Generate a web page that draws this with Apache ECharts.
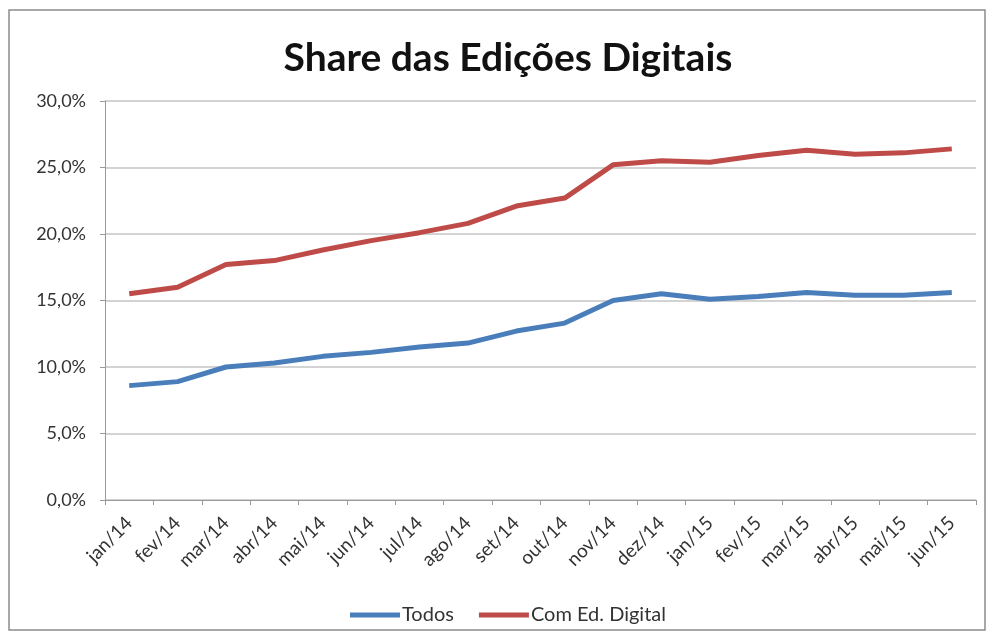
<!DOCTYPE html>
<html>
<head>
<meta charset="utf-8">
<script src="https://cdn.jsdelivr.net/npm/echarts@6/dist/echarts.min.js"></script>
<style>
html,body{margin:0;padding:0;background:#fff;}
#c{width:992px;height:638px;}
</style>
</head>
<body>
<div id="c"></div>
<script>
const categories = ['jan/14','fev/14','mar/14','abr/14','mai/14','jun/14','jul/14','ago/14','set/14','out/14','nov/14','dez/14','jan/15','fev/15','mar/15','abr/15','mai/15','jun/15'];
const todos = [8.6, 8.9, 10.0, 10.3, 10.8, 11.1, 11.5, 11.8, 12.7, 13.3, 15.0, 15.5, 15.1, 15.3, 15.6, 15.4, 15.4, 15.6];
const comEdDigital = [15.5, 16.0, 17.7, 18.0, 18.8, 19.5, 20.1, 20.8, 22.1, 22.7, 25.2, 25.5, 25.4, 25.9, 26.3, 26.0, 26.1, 26.4];
const yTicks = [0, 5, 10, 15, 20, 25, 30];
const titleText = 'Share das Edições Digitais';

const chart = echarts.init(document.getElementById('c'));
const font = 'Lato, "Open Sans", sans-serif';
chart.setOption({
  backgroundColor: '#ffffff',
  animation: false,
  graphic: [{
    type: 'rect',
    shape: {x: 9, y: 10, width: 976, height: 620},
    style: {fill: 'none', stroke: '#8c8c8c', lineWidth: 1.5},
    silent: true
  }, {
    type: 'text',
    x: 508, y: 58,
    style: {text: titleText, fontFamily: font, fontWeight: 'bold', fontSize: 39, fill: '#111',
      textAlign: 'center', textVerticalAlign: 'middle'},
    silent: true
  }],
  legend: {
    top: 600,
    left: 345,
    icon: 'rect',
    itemWidth: 50,
    itemHeight: 5,
    itemGap: 25,
    textStyle: {fontFamily: font, fontSize: 20, color: '#333', padding: [0, 0, 0, -3]},
    data: ['Todos', 'Com Ed. Digital']
  },
  grid: {left: 105, right: 16, top: 101, bottom: 138},
  xAxis: {
    type: 'category',
    data: categories,
    boundaryGap: true,
    axisLine: {lineStyle: {color: '#9a9a9a', width: 1}},
    axisTick: {show: true, length: 5, lineStyle: {color: '#9a9a9a'}},
    axisLabel: {rotate: 45, fontFamily: font, fontSize: 19, color: '#333', margin: 20}
  },
  yAxis: {
    type: 'value',
    min: 0,
    max: 30,
    interval: 5,
    axisLine: {show: true, lineStyle: {color: '#9a9a9a', width: 1}},
    axisTick: {show: true, length: 5, lineStyle: {color: '#9a9a9a'}},
    splitLine: {lineStyle: {color: '#c4c4c4', width: 1.5}},
    axisLabel: {
      fontFamily: font, fontSize: 18, color: '#333', margin: 19,
      formatter: v => yTicks.includes(v) ? v.toFixed(1).replace('.', ',') + '%' : ''
    }
  },
  series: [
    {name: 'Todos', type: 'line', data: todos, showSymbol: false, symbol: 'none',
     lineStyle: {color: '#4a7ebb', width: 5}, itemStyle: {color: '#4a7ebb'}},
    {name: 'Com Ed. Digital', type: 'line', data: comEdDigital, showSymbol: false, symbol: 'none',
     lineStyle: {color: '#be4b48', width: 5}, itemStyle: {color: '#be4b48'}}
  ]
});
</script>
</body>
</html>
